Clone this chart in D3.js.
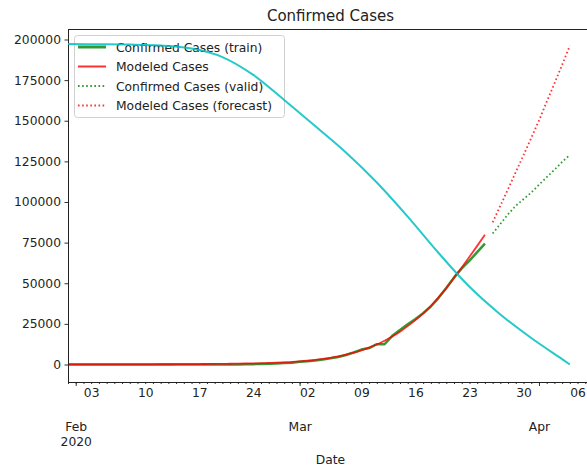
<!DOCTYPE html>
<html>
<head>
<meta charset="utf-8">
<script src="https://cdn.jsdelivr.net/npm/d3@7"></script>
<style>
  html, body { margin: 0; padding: 0; background: #fff; }
  svg { display: block; font-family: "DejaVu Sans", sans-serif; }
</style>
</head>
<body>
<svg id="chart" width="587" height="469"></svg>
<script>
// Daily confirmed cases, training window (Jan 31 – Mar 25, 2020)
const trainStart = "2020-01-31";
const trainConfirmed = [
  2, 2, 2, 2, 2, 2, 2, 3, 3, 3, 3, 3, 3, 3, 3, 3, 3, 3, 3, 3, 3,
  20, 62, 155, 229, 322, 453, 655, 888, 1128, 1694, 2036, 2502, 3089,
  3858, 4636, 5883, 7375, 9172, 10149, 12462, 12462, 17660, 21157,
  24747, 27980, 31506, 35713, 41035, 47021, 53578, 59138, 63927,
  69176, 74386
];
// Model fit over the same window
const trainModeled = [
  30, 35, 40, 46, 53, 60, 69, 78, 88, 98, 110, 124, 140, 158, 180, 210,
  240, 275, 310, 350, 400, 455, 520, 600, 700, 810, 950, 1110, 1300,
  1570, 1900, 2300, 2800, 3400, 4100, 5000, 6000, 7250, 8700, 10400,
  12300, 14600, 17200, 20200, 23600, 27300, 31500, 36100, 41300, 47000,
  53200, 59700, 66300, 73000, 79800
];
// Validation window (Mar 26 – Apr 5, 2020)
const validStart = "2020-03-26";
const validConfirmed = [
  80589, 86498, 92472, 97689, 101739, 105792, 110574, 115242, 119827,
  124632, 128948
];
const validForecast = [
  87500, 97700, 108000, 118400, 128900, 139400, 150100, 161600, 172900,
  184400, 196200
];
// Decaying companion curve, sampled every four days
const decayDates = [
  "2020-01-31", "2020-02-04", "2020-02-08", "2020-02-12", "2020-02-16",
  "2020-02-20", "2020-02-24", "2020-02-28", "2020-03-03", "2020-03-07",
  "2020-03-11", "2020-03-15", "2020-03-19", "2020-03-23", "2020-03-27",
  "2020-03-31", "2020-04-04", "2020-04-05"
];
const decayValues = [
  197200, 197100, 196900, 196300, 194400, 189200, 178200, 162800, 146800,
  130500, 112000, 91000, 68600, 47800, 30800, 16300, 3300, 0
];
const yTicks = [0, 25000, 50000, 75000, 100000, 125000, 150000, 175000, 200000];
const legendLabels = [
  "Confirmed Cases (train)", "Modeled Cases",
  "Confirmed Cases (valid)", "Modeled Cases (forecast)"
];
const monthLabels = [["Feb", "2020"], ["Mar"], ["Apr"]];

const parse = d3.timeParse("%Y-%m-%d");
const seriesFrom = (start, values) =>
  values.map((v, i) => ({ date: d3.timeDay.offset(parse(start), i), value: v }));

const train = seriesFrom(trainStart, trainConfirmed);
const model = seriesFrom(trainStart, trainModeled);
const valid = seriesFrom(validStart, validConfirmed);
const forecast = seriesFrom(validStart, validForecast);
const decay = decayDates.map((d, i) => ({ date: parse(d), value: decayValues[i] }));

const svg = d3.select("#chart");
const plotLeft = 68, plotRight = 593, plotTop = 29, plotBottom = 382;

const x = d3.scaleTime()
  .domain([parse("2020-01-31"), parse("2020-04-08")])
  .range([plotLeft, plotRight]);
const y = d3.scaleLinear()
  .domain([-10770, 206460])
  .range([plotBottom, plotTop]);

const line = d3.line()
  .x(d => x(d.date))
  .y(d => y(d.value));
const smooth = d3.line()
  .x(d => x(d.date))
  .y(d => y(d.value))
  .curve(d3.curveMonotoneX);
const spline = d3.line()
  .x(d => x(d.date))
  .y(d => y(d.value))
  .curve(d3.curveCatmullRom.alpha(0.5));

svg.append("defs").append("clipPath").attr("id", "plot")
  .append("rect").attr("x", plotLeft).attr("y", plotTop)
  .attr("width", plotRight - plotLeft).attr("height", plotBottom - plotTop);

const plot = svg.append("g").attr("clip-path", "url(#plot)");

const GREEN = "#008000", RED = "#ff0000", CYAN = "#00bfbf";

plot.append("path").datum(train).attr("d", line)
  .attr("fill", "none").attr("stroke", GREEN).attr("stroke-opacity", 0.8)
  .attr("stroke-width", 2.5).attr("stroke-linejoin", "round");
plot.append("path").datum(model).attr("d", smooth)
  .attr("fill", "none").attr("stroke", RED).attr("stroke-opacity", 0.8)
  .attr("stroke-width", 1.8);
plot.append("path").datum(valid).attr("d", line)
  .attr("fill", "none").attr("stroke", GREEN).attr("stroke-opacity", 0.8)
  .attr("stroke-width", 1.8).attr("stroke-dasharray", "1.6,2.5");
plot.append("path").datum(forecast).attr("d", smooth)
  .attr("fill", "none").attr("stroke", RED).attr("stroke-opacity", 0.8)
  .attr("stroke-width", 1.8).attr("stroke-dasharray", "1.6,2.5");

// Y axis
const yAxis = svg.append("g")
  .attr("transform", `translate(${plotLeft},0)`)
  .call(d3.axisLeft(y).tickValues(yTicks).tickSize(3.5).tickPadding(3.5)
    .tickFormat(d3.format("d")));
yAxis.select(".domain").remove();
yAxis.selectAll("line").attr("stroke", "#333");
yAxis.selectAll("text").attr("font-size", 12.3).attr("fill", "#222")
  .attr("font-family", "DejaVu Sans");

// X axis: daily minor ticks, weekly day labels
const days = d3.timeDay.range(x.domain()[0], d3.timeDay.offset(x.domain()[1], 1));
const xMinor = svg.append("g")
  .attr("transform", `translate(0,${plotBottom})`)
  .call(d3.axisBottom(x).tickValues(days).tickSize(2).tickPadding(4.5)
    .tickFormat(d => d.getDay() === 1 ? d3.timeFormat("%d")(d) : ""));
xMinor.select(".domain").remove();
xMinor.selectAll("line").attr("stroke", "#333");
xMinor.selectAll("text").attr("font-size", 12.3).attr("fill", "#222")
  .attr("font-family", "DejaVu Sans");

// X axis: month major ticks with stacked labels
const months = d3.timeMonth.range(x.domain()[0], x.domain()[1]);
const xMajor = svg.append("g")
  .attr("transform", `translate(0,${plotBottom})`)
  .call(d3.axisBottom(x).tickValues(months).tickSize(4).tickFormat(""));
xMajor.select(".domain").remove();
xMajor.selectAll("line").attr("stroke", "#333");
xMajor.selectAll(".tick").each(function (d, i) {
  const t = d3.select(this).append("text")
    .attr("text-anchor", "middle").attr("font-size", 12.3).attr("fill", "#222")
    .attr("font-family", "DejaVu Sans");
  monthLabels[i].forEach((s, j) => {
    t.append("tspan").attr("x", 0).attr("y", 48.5 + j * 15).text(s);
  });
});

// Frame
svg.append("path")
  .attr("d", `M${plotLeft},${plotBottom}V${plotTop}H${plotRight}V${plotBottom}Z`)
  .attr("fill", "none").attr("stroke", "#222").attr("stroke-width", 1)
  .attr("shape-rendering", "crispEdges");

// Title and axis label
svg.append("text").attr("x", (plotLeft + plotRight) / 2).attr("y", 20.5)
  .attr("text-anchor", "middle").attr("font-size", 15).attr("fill", "#222")
  .text("Confirmed Cases");
svg.append("text").attr("x", (plotLeft + plotRight) / 2).attr("y", 464)
  .attr("text-anchor", "middle").attr("font-size", 12.3).attr("fill", "#222")
  .text("Date");

// Legend
const legend = svg.append("g");
legend.append("rect")
  .attr("x", 74.5).attr("y", 35.5).attr("width", 210).attr("height", 82)
  .attr("rx", 3).attr("fill", "#fff").attr("fill-opacity", 0.8)
  .attr("stroke", "#d0d0d0");
const handleStyles = [
  { color: GREEN, width: 3, dash: null },
  { color: RED, width: 2, dash: null },
  { color: GREEN, width: 2, dash: "1.6,2.5" },
  { color: RED, width: 2, dash: "1.6,2.5" }
];
legendLabels.forEach((label, i) => {
  const cy = 47 + i * 19.5;
  const h = handleStyles[i];
  legend.append("line")
    .attr("x1", 78).attr("x2", 106).attr("y1", cy).attr("y2", cy)
    .attr("stroke", h.color).attr("stroke-opacity", 0.8)
    .attr("stroke-width", h.width).attr("stroke-dasharray", h.dash);
  legend.append("text").attr("x", 116).attr("y", cy + 4.5)
    .attr("font-size", 12.3).attr("fill", "#222").text(label);
});

// Decaying curve drawn last, above the legend
svg.append("g").attr("clip-path", "url(#plot)")
  .append("path").datum(decay).attr("d", spline)
  .attr("fill", "none").attr("stroke", CYAN).attr("stroke-opacity", 0.85)
  .attr("stroke-width", 2);
</script>
</body>
</html>
